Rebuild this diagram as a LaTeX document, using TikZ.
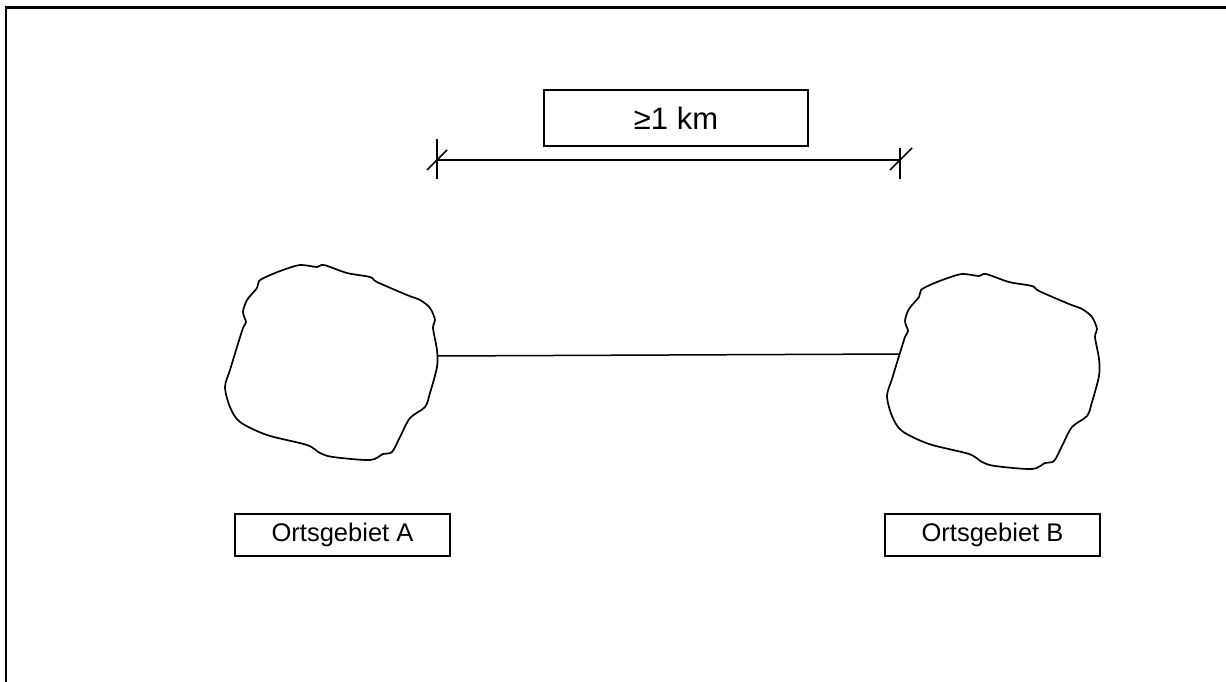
\documentclass[tikz,border=0pt]{standalone}
\usepackage{fontspec}
\setmainfont{Liberation Sans}
\begin{document}
\begin{tikzpicture}[x=1pt,y=-1pt,
  box/.style={draw, line width=1.4pt, inner sep=0pt},
  blobline/.style={line width=1.7pt, line join=round},
  thinline/.style={line width=1.5pt}]
\useasboundingbox (0,0) rectangle (1226,682);
% frame
\draw[line width=2.4pt] (6,683) -- (6,7.5) -- (1227,7.5);
% dimension label
\node[box, minimum width=264pt, minimum height=56pt] (km) at (676,118)
  {\fontsize{31}{36}\selectfont ≥1 km};
% dimension line
\coordinate (d1) at (437,160);
\coordinate (d2) at (900,160);
\draw[thinline] (d1) -- (d2);
\draw[thinline] (d1) ++(0,-21) -- ++(0,40);
\draw[thinline] (d1) ++(-10,10) -- ++(20,-20);
\draw[thinline] (d2) ++(0,-12) -- ++(0,31);
\draw[thinline] (d2) ++(-10,10) -- ++(22,-22);
% blobs
\def\blob{plot[smooth cycle, tension=0.5] coordinates {(300,265) (317,267) (324,265) (347,273) (370,277) (377,282) (407,295) (420,300) (430,308) (435,320) (433,328) (437,350) (437,367) (430,393) (425,407) (410,418) (400,437) (392,452) (383,454) (370,460) (333,457) (320,453) (307,445) (267,435) (240,422) (230,407) (225,387) (230,370) (237,347) (243,328) (246,322) (243,312) (247,300) (257,288) (259,281) (268,276) (283,270)}}
\draw[blobline] \blob;
\begin{scope}[shift={(662,9)}]
\draw[blobline] \blob;
\end{scope}
\coordinate (ae) at (437,356);
\coordinate (bw) at (900,354);
\draw[thinline] (ae) -- (bw);
% labels
\node[box, minimum width=215pt, minimum height=42pt] (oa) at (342.5,535)
  {\fontsize{25.5}{30}\selectfont Ortsgebiet A};
\node[box, minimum width=215pt, minimum height=42pt] (ob) at (992.5,535)
  {\fontsize{25.5}{30}\selectfont Ortsgebiet B};
\end{tikzpicture}
\end{document}
